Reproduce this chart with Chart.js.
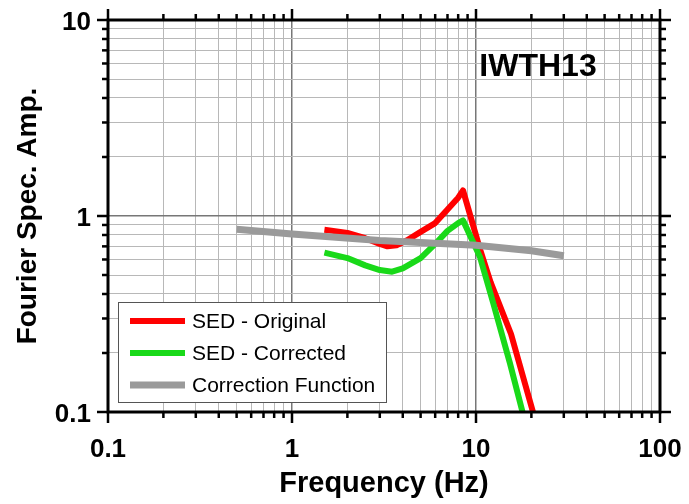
<!DOCTYPE html>
<html>
<head>
<meta charset="utf-8">
<script src="https://cdn.jsdelivr.net/npm/chart.js@4.4.1/dist/chart.umd.min.js"></script>
<style>
  html, body { margin: 0; padding: 0; background: #fff; }
</style>
</head>
<body>
<canvas id="spec" width="689" height="504"></canvas>
<script>
const station = "IWTH13";

// SED - Original
const freqOriginal = [1.5, 2.0, 2.5, 3.0, 3.3, 3.7, 4.2, 5.0, 6.0, 7.0, 8.0, 8.5, 10.5, 12.0, 15.5, 20.4];
const ampOriginal  = [0.85, 0.82, 0.77, 0.72, 0.70, 0.71, 0.75, 0.83, 0.92, 1.08, 1.24, 1.35, 0.68, 0.46, 0.25, 0.10];

// SED - Corrected
const freqCorrected = [1.5, 2.0, 2.5, 3.0, 3.5, 4.0, 5.0, 6.0, 7.0, 8.0, 8.5, 10.5, 12.4, 15.3, 17.9];
const ampCorrected  = [0.65, 0.61, 0.56, 0.53, 0.52, 0.54, 0.61, 0.72, 0.84, 0.92, 0.95, 0.62, 0.36, 0.177, 0.10];

// Correction Function
const freqCorrection = [0.5, 1, 3, 10, 20, 30];
const ampCorrection  = [0.855, 0.81, 0.75, 0.71, 0.665, 0.627];

const seriesNames = ["SED - Original", "SED - Corrected", "Correction Function"];
const seriesColors = ["#ff0000", "#19d919", "#9a9a9a"];

const xDecades = [0.1, 1, 10, 100];
const xDecadeLabels = ["0.1", "1", "10", "100"];
const yDecades = [0.1, 1, 10];
const yDecadeLabels = ["0.1", "1", "10"];

const xTitle = "Frequency (Hz)";
const yTitle = "Fourier Spec. Amp.";

// minor ticks 1..9 inside each decade
function logTicks(decades) {
  const out = [];
  for (let i = 0; i < decades.length - 1; i++) {
    for (let m = 1; m < 10; m++) out.push(decades[i] * m);
  }
  out.push(decades[decades.length - 1]);
  return out;
}
const xTicks = logTicks(xDecades);
const yTicks = logTicks(yDecades);

function decadeIndex(v, decades) {
  return decades.findIndex(d => Math.abs(v / d - 1) < 1e-6);
}

const FONT = "'Liberation Sans', Arial, Helvetica, sans-serif";

const pts = (xs, ys) => xs.map((x, i) => ({x: x, y: ys[i]}));

function gridColor(decades) {
  return c => (c.tick && decadeIndex(c.tick.value, decades) >= 0) ? "#777" : "#b8b8b8";
}
function gridWidth(decades) {
  return c => (c.tick && decadeIndex(c.tick.value, decades) >= 0) ? 1.5 : 1;
}

const frameAndLegend = {
  id: "frameAndLegend",
  afterDraw(chart) {
    const {ctx, chartArea: a, scales: {x, y}} = chart;
    ctx.save();
    ctx.strokeStyle = "#000";
    ctx.lineCap = "butt";
    ctx.lineWidth = 2.5;
    const seg = (x1, y1, x2, y2) => { ctx.beginPath(); ctx.moveTo(x1, y1); ctx.lineTo(x2, y2); ctx.stroke(); };
    x.ticks.forEach(t => {
      const px = x.getPixelForValue(t.value);
      const len = decadeIndex(t.value, xDecades) >= 0 ? 11 : 6;
      seg(px, a.bottom, px, a.bottom + len);
      seg(px, a.top, px, a.top - len);
    });
    y.ticks.forEach(t => {
      const py = y.getPixelForValue(t.value);
      const len = decadeIndex(t.value, yDecades) >= 0 ? 11 : 6;
      seg(a.left, py, a.left - len, py);
      seg(a.right, py, a.right + len, py);
    });
    ctx.lineWidth = 3;
    ctx.strokeRect(a.left, a.top, a.right - a.left, a.bottom - a.top);

    // station label
    ctx.fillStyle = "#000";
    ctx.font = "bold 32px " + FONT;
    ctx.textAlign = "center";
    ctx.textBaseline = "middle";
    ctx.fillText(station, a.right - 122, a.top + 47);

    // legend box
    const bx = a.left + 10, by = a.bottom - 110, bw = 268, bh = 100;
    ctx.fillStyle = "#fff";
    ctx.fillRect(bx, by, bw, bh);
    ctx.lineWidth = 1;
    ctx.strokeStyle = "#555";
    ctx.strokeRect(bx + 0.5, by + 0.5, bw, bh);
    ctx.font = "21px " + FONT;
    ctx.textAlign = "left";
    chart.data.datasets.forEach((ds, i) => {
      const ry = by + 19 + i * 32;
      ctx.strokeStyle = ds.borderColor;
      ctx.lineWidth = i === 2 ? 7 : 6;
      seg(bx + 12, ry, bx + 67, ry);
      ctx.fillStyle = "#000";
      ctx.fillText(ds.label, bx + 74, ry + 1);
    });
    ctx.restore();
  }
};

new Chart(document.getElementById("spec"), {
  type: "line",
  data: {
    datasets: [
      {label: seriesNames[0], data: pts(freqOriginal, ampOriginal), borderColor: seriesColors[0], borderWidth: 6, order: 2},
      {label: seriesNames[1], data: pts(freqCorrected, ampCorrected), borderColor: seriesColors[1], borderWidth: 6, order: 1},
      {label: seriesNames[2], data: pts(freqCorrection, ampCorrection), borderColor: seriesColors[2], borderWidth: 7, order: 0}
    ]
  },
  options: {
    responsive: false,
    animation: false,
    layout: {padding: {left: 0, top: 20, right: 29, bottom: 0}},
    elements: {
      point: {radius: 0},
      line: {tension: 0, borderJoinStyle: "round", borderCapStyle: "butt", fill: false}
    },
    plugins: {
      legend: {display: false},
      tooltip: {enabled: false}
    },
    scales: {
      x: {
        type: "logarithmic",
        min: 0.1, max: 100,
        afterBuildTicks: s => { s.ticks = xTicks.map(v => ({value: v})); },
        afterFit: s => { s.height = 92; s.paddingLeft = 0; s.paddingRight = 0; },
        border: {display: false},
        grid: {drawTicks: false, color: gridColor(xDecades), lineWidth: gridWidth(xDecades)},
        ticks: {
          autoSkip: false, maxRotation: 0, padding: 22, color: "#000",
          font: {family: FONT, size: 26, weight: "bold"},
          callback: v => { const i = decadeIndex(v, xDecades); return i >= 0 ? xDecadeLabels[i] : ""; }
        },
        title: {display: true, text: xTitle, color: "#000", font: {family: FONT, size: 29, weight: "bold"}, padding: {top: 0, bottom: 3}}
      },
      y: {
        type: "logarithmic",
        min: 0.1, max: 10,
        afterBuildTicks: s => { s.ticks = yTicks.map(v => ({value: v})); },
        afterFit: s => { s.width = 108; s.paddingTop = 0; s.paddingBottom = 0; },
        border: {display: false},
        grid: {drawTicks: false, color: gridColor(yDecades), lineWidth: gridWidth(yDecades)},
        ticks: {
          autoSkip: false, padding: 17, labelOffset: 3, color: "#000",
          font: {family: FONT, size: 26, weight: "bold"},
          callback: v => { const i = decadeIndex(v, yDecades); return i >= 0 ? yDecadeLabels[i] : ""; }
        },
        title: {display: true, text: yTitle, color: "#000", font: {family: FONT, size: 28, weight: "bold"}, padding: {top: 11, bottom: 0}}
      }
    }
  },
  plugins: [frameAndLegend]
});
</script>
</body>
</html>
